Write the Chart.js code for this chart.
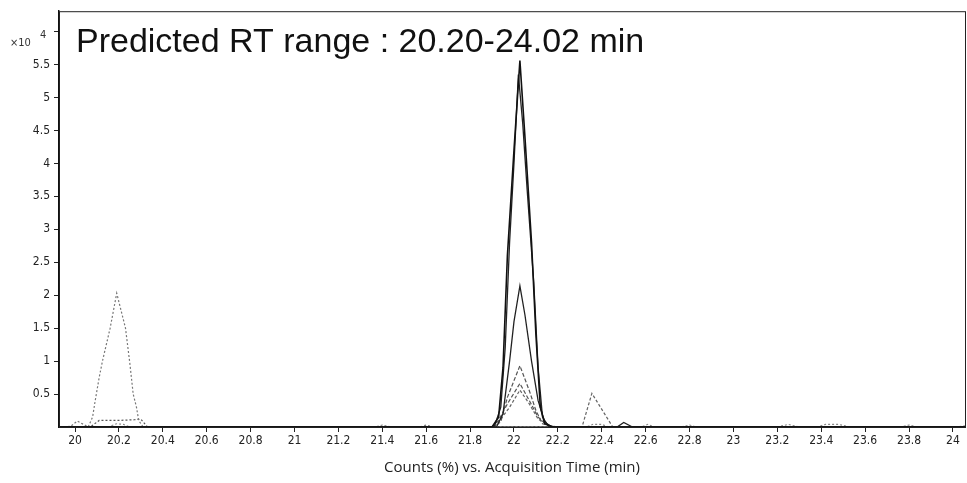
<!DOCTYPE html>
<html>
<head>
<meta charset="utf-8">
<script src="https://cdn.jsdelivr.net/npm/chart.js@4.4.0/dist/chart.umd.min.js"></script>
<style>
  html, body { margin: 0; padding: 0; background: #fff; }
  #wrap { width: 967px; height: 483px; position: relative; }
</style>
</head>
<body>
<div id="wrap"><canvas id="rtChart"></canvas></div>
<script>
// axis ticks (x in min, y in counts x10^4)
const timeTicks = [20, 20.2, 20.4, 20.6, 20.8, 21, 21.2, 21.4, 21.6, 21.8, 22, 22.2, 22.4, 22.6, 22.8, 23, 23.2, 23.4, 23.6, 23.8, 24];
const countTicks = [0.5, 1, 1.5, 2, 2.5, 3, 3.5, 4, 4.5, 5, 5.5, 6];

// main peak, tallest trace
const peakATime   = [19.93, 21.90, 21.93, 21.95, 21.97, 22.00, 22.027, 22.05, 22.08, 22.10, 22.12, 22.14, 22.18, 24.06];
const peakACounts = [0, 0, 0.15, 0.9, 2.6, 4.2, 5.56, 4.4, 2.8, 1.4, 0.3, 0.05, 0, 0];

// second tall trace
const peakBTime   = [19.93, 21.91, 21.94, 21.96, 21.98, 22.00, 22.02, 22.04, 22.06, 22.09, 22.11, 22.13, 22.16, 24.06];
const peakBCounts = [0, 0, 0.3, 1.2, 2.8, 4.0, 5.35, 4.6, 3.6, 2.2, 0.9, 0.15, 0, 0];

// solid ~2.1 trace
const peakCTime   = [19.93, 21.92, 21.95, 21.98, 22.00, 22.027, 22.05, 22.08, 22.11, 22.14, 22.17, 22.47, 22.50, 22.54, 24.06];
const peakCCounts = [0, 0, 0.2, 1.0, 1.6, 2.14, 1.7, 1.0, 0.4, 0.08, 0, 0, 0.07, 0, 0];

// dashed small traces at 22.03
const peakDTime   = [19.93, 21.91, 21.94, 21.97, 22.027, 22.07, 22.10, 22.13, 22.16, 22.20, 24.06];
const peakDCounts = [0, 0, 0.08, 0.45, 0.93, 0.55, 0.25, 0.05, 0.02, 0, 0];
const peakETime   = [19.93, 21.90, 21.93, 21.97, 22.027, 22.07, 22.11, 22.15, 22.19, 24.06];
const peakECounts = [0, 0, 0.1, 0.35, 0.66, 0.4, 0.15, 0.03, 0, 0];
const peakFTime   = [19.93, 21.91, 21.94, 21.98, 22.027, 22.07, 22.11, 22.15, 22.18, 24.06];
const peakFCounts = [0, 0, 0.12, 0.3, 0.56, 0.35, 0.12, 0.04, 0, 0];

// dotted trace with the 20.2 peak
const earlyTime   = [19.93, 19.98, 20.01, 20.05, 20.06, 20.08, 20.09, 20.11, 20.125, 20.16, 20.19, 20.23, 20.25, 20.265, 20.28, 20.29, 20.31, 21.37, 21.40, 21.44, 21.57, 21.60, 21.63, 24.06];
const earlyCounts = [0, 0.01, 0.09, 0.02, 0, 0.15, 0.36, 0.75, 1.0, 1.5, 2.03, 1.5, 0.96, 0.5, 0.3, 0.1, 0, 0, 0.03, 0, 0, 0.03, 0, 0];

// dotted plateau around 20.2
const plateauTime   = [19.93, 20.07, 20.11, 20.20, 20.27, 20.30, 20.33, 24.06];
const plateauCounts = [0, 0, 0.1, 0.1, 0.11, 0.12, 0, 0];
const smallTime   = [19.93, 20.15, 20.19, 20.22, 20.25, 24.06];
const smallCounts = [0, 0, 0.05, 0.04, 0, 0];

// dashed peak at 22.36
const lateTime   = [19.93, 22.31, 22.355, 22.45, 24.06];
const lateCounts = [0, 0, 0.51, 0, 0];

// small dotted bumps late in the run
const bumpTime   = [19.93, 22.33, 22.36, 22.40, 22.43, 22.58, 22.61, 22.64, 22.76, 22.80, 22.83, 23.20, 23.25, 23.30, 23.38, 23.42, 23.48, 23.53, 23.76, 23.80, 23.84, 24.02, 24.055];
const bumpCounts = [0, 0, 0.04, 0.04, 0, 0, 0.04, 0, 0, 0.03, 0, 0, 0.04, 0, 0, 0.04, 0.04, 0, 0, 0.03, 0, 0, 0.02];

function zip(times, counts) {
    return times.map((t, i) => ({ x: t, y: counts[i] }));
}

function trace(times, counts, color, width, dash) {
    return {
        data: zip(times, counts),
        borderColor: color,
        borderWidth: width,
        borderDash: dash || [],
        pointRadius: 0,
        showLine: true,
        fill: false,
        tension: 0
    };
}

// frame round the plot plus the big caption
const framePlugin = {
    id: 'frame',
    afterDraw(chart) {
        const { ctx, chartArea } = chart;
        ctx.save();
        ctx.strokeStyle = '#222';
        ctx.lineWidth = 1;
        ctx.strokeRect(chartArea.left + 0.5, chartArea.top + 0.5, chartArea.width, chartArea.height);
        ctx.fillStyle = '#111';
        ctx.font = '34px "Liberation Sans", Arial, sans-serif';
        ctx.textBaseline = 'alphabetic';
        ctx.fillText('Predicted RT range : 20.20-24.02 min', 76, 52);
        ctx.font = '11px "Liberation Sans Narrow", "DejaVu Sans Condensed", sans-serif';
        ctx.fillStyle = '#333';
        ctx.fillText('\u00d710', 10, 46);
        ctx.fillText('4', 40, 38);
        ctx.restore();
    }
};

const tickFont = { family: '"Liberation Sans Narrow", "DejaVu Sans Condensed", sans-serif', size: 12 };

new Chart(document.getElementById('rtChart'), {
    type: 'scatter',
    data: {
        datasets: [
            trace(peakATime, peakACounts, '#111', 1.6),
            trace(peakBTime, peakBCounts, '#222', 1.3),
            trace(peakCTime, peakCCounts, '#222', 1.3),
            trace(peakDTime, peakDCounts, '#555', 1.2, [4, 2]),
            trace(peakETime, peakECounts, '#555', 1.2, [4, 2]),
            trace(peakFTime, peakFCounts, '#666', 1.2, [3, 2]),
            trace(earlyTime, earlyCounts, '#777', 1.2, [2, 2]),
            trace(plateauTime, plateauCounts, '#555', 1.2, [2, 2]),
            trace(smallTime, smallCounts, '#888', 1.1, [2, 2]),
            trace(lateTime, lateCounts, '#666', 1.2, [3, 2]),
            trace(bumpTime, bumpCounts, '#888', 1.1, [2, 2])
        ]
    },
    options: {
        responsive: true,
        maintainAspectRatio: false,
        animation: false,
        layout: { padding: { top: 8, right: 2, left: 0, bottom: 0 } },
        plugins: {
            legend: { display: false },
            tooltip: { enabled: false }
        },
        scales: {
            x: {
                type: 'linear',
                min: 19.927,
                max: 24.055,
                afterBuildTicks: scale => { scale.ticks = timeTicks.map(v => ({ value: v })); },
                afterFit: scale => { scale.height = 56; },
                ticks: {
                    color: '#222',
                    font: tickFont,
                    padding: 2,
                    maxRotation: 0,
                    autoSkip: false,
                    callback: v => String(Number(v.toFixed(1)))
                },
                grid: { drawOnChartArea: false, drawTicks: true, tickLength: 5, color: '#222' },
                border: { display: true, color: '#111', width: 1.5 },
                title: {
                    display: true,
                    text: 'Counts (%) vs. Acquisition Time (min)',
                    color: '#222',
                    font: { family: '"Open Sans", "Noto Sans", sans-serif', size: 15 },
                    padding: { top: 0, bottom: 6 }
                }
            },
            y: {
                type: 'linear',
                min: 0,
                max: 6.31,
                afterBuildTicks: scale => { scale.ticks = countTicks.map(v => ({ value: v })); },
                afterFit: scale => { scale.width = 59; },
                ticks: {
                    color: '#222',
                    font: tickFont,
                    padding: 4,
                    autoSkip: false,
                    // the 6 tick carries the x10^4 note instead of a number
                    callback: v => (v === 6 ? '' : String(v))
                },
                grid: { drawOnChartArea: false, drawTicks: true, tickLength: 5, color: '#222' },
                border: { display: true, color: '#111', width: 1.5 }
            }
        }
    },
    plugins: [framePlugin]
});
</script>
</body>
</html>
